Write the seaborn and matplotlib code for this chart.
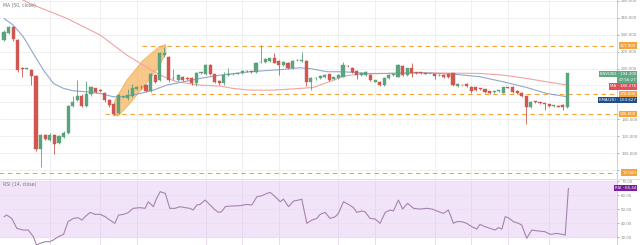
import matplotlib
matplotlib.use("Agg")
import matplotlib.pyplot as plt
from matplotlib.patches import Polygon
import matplotlib.transforms as mtransforms
import seaborn as sns
import pandas as pd

# ---------------- data ----------------
opens = [233.7, 242.3, 249.4, 233.7, 200.5, 199.8, 198.2, 191.1, 105.4, 121.2,
         115.3, 122.0, 112.2, 119.3, 124.0, 155.5, 162.7, 167.4, 155.5, 169.8,
         176.5, 174.5, 170.5, 162.7, 157.9, 146.9, 166.6, 164.6, 167.4, 175.3,
         178.4, 180.4, 173.7, 192.2, 186.3, 215.9, 213.9, 188.3, 186.3, 190.3,
         188.3, 188.3, 182.4, 194.6, 193.4, 204.1, 193.4, 185.1, 182.4, 192.2,
         193.0, 193.8, 194.2, 197.0, 196.2, 196.2, 207.4, 207.6, 209.2, 212.0,
         208.8, 204.1, 206.8, 200.1, 209.6, 208.8, 208.8, 183.6, 188.3, 188.3,
         189.5, 193.4, 187.1, 188.3, 190.3, 202.9, 200.9, 197.0, 192.2, 192.2,
         192.2, 184.3, 184.3, 180.4, 188.3, 192.2, 190.3, 202.9, 192.2, 200.1,
         195.0, 195.0, 194.2, 194.2, 193.4, 192.2, 192.2, 193.4, 194.2, 179.6,
         180.4, 181.6, 178.4, 177.6, 176.5, 175.3, 173.3, 172.5, 173.3, 171.3,
         177.6, 178.4, 173.7, 171.3, 167.4, 154.8, 160.7, 159.5, 158.7, 157.9,
         155.5, 155.5, 156.7, 154.0]
highs = [245.5, 250.5, 250.2, 234.5, 201.5, 201.0, 199.0, 192.0, 123.0, 122.5,
         124.0, 123.0, 121.0, 126.0, 157.0, 168.0, 186.3, 170.0, 185.0, 179.0,
         177.5, 176.0, 172.0, 164.0, 159.0, 170.0, 168.0, 176.0, 182.0, 179.5,
         180.0, 181.5, 195.0, 193.5, 219.0, 225.8, 215.0, 199.0, 193.5, 191.5,
         189.5, 189.5, 195.5, 196.0, 205.5, 205.0, 194.0, 186.0, 196.0, 201.0,
         194.5, 195.0, 198.0, 198.0, 197.0, 208.0, 227.7, 212.0, 213.0, 217.9,
         210.0, 209.0, 208.0, 210.0, 211.0, 219.9, 210.0, 189.5, 189.5, 192.0,
         193.0, 194.0, 190.5, 193.0, 208.0, 204.0, 202.0, 198.0, 196.0, 197.0,
         193.0, 187.0, 185.0, 189.5, 193.0, 193.5, 205.0, 204.0, 201.0, 206.5,
         196.0, 195.5, 195.0, 195.0, 194.0, 193.0, 193.0, 194.5, 195.0, 182.5,
         181.0, 182.5, 179.0, 178.5, 177.5, 176.0, 174.0, 173.5, 174.5, 178.5,
         178.5, 179.0, 174.5, 172.0, 168.0, 161.5, 161.5, 160.5, 159.5, 158.5,
         156.5, 156.5, 157.5, 195.0]
lows = [232.9, 241.0, 233.0, 196.0, 190.0, 199.0, 180.0, 103.0, 83.8, 116.0,
        114.0, 99.5, 111.0, 118.0, 123.0, 154.5, 161.5, 154.0, 154.0, 168.0,
        171.0, 172.0, 161.0, 155.0, 145.0, 146.0, 165.0, 163.0, 166.0, 174.5,
        176.0, 172.5, 172.0, 183.0, 185.0, 214.0, 184.0, 186.0, 185.0, 185.0,
        187.0, 181.0, 179.0, 194.0, 192.0, 192.0, 183.0, 181.0, 181.0, 191.0,
        192.0, 193.0, 193.0, 196.0, 195.0, 195.0, 206.5, 206.5, 208.0, 206.0,
        192.2, 203.0, 199.0, 199.0, 209.0, 208.0, 179.2, 174.5, 187.0, 187.5,
        189.0, 185.5, 186.5, 187.5, 189.5, 201.5, 195.0, 187.1, 191.5, 191.5,
        185.5, 183.5, 179.5, 179.5, 187.5, 191.5, 189.5, 191.5, 191.5, 190.3,
        194.0, 194.0, 193.5, 193.5, 188.0, 191.0, 189.0, 189.0, 179.5, 178.5,
        179.0, 178.0, 171.0, 173.5, 175.0, 171.5, 169.5, 171.5, 172.5, 170.5,
        176.5, 171.5, 170.0, 166.5, 135.0, 153.5, 159.5, 158.5, 151.0, 154.5,
        154.5, 154.0, 151.0, 153.0]
closes = [243.5, 249.4, 234.4, 198.2, 200.0, 200.6, 191.1, 105.4, 121.2, 117.3,
          122.0, 111.4, 120.0, 124.0, 155.5, 160.7, 167.4, 155.5, 169.8, 177.6,
          172.5, 173.9, 162.7, 156.7, 146.1, 168.6, 167.0, 168.6, 176.5, 178.4,
          177.6, 173.7, 193.4, 184.3, 217.9, 218.5, 186.3, 188.7, 192.2, 186.3,
          188.0, 182.4, 194.2, 195.0, 204.1, 193.4, 184.3, 182.4, 192.2, 192.6,
          193.4, 194.2, 197.0, 196.6, 196.0, 206.8, 208.0, 210.8, 212.0, 206.8,
          203.7, 208.0, 200.1, 208.8, 210.0, 210.0, 183.6, 188.3, 188.7, 191.1,
          192.2, 186.3, 189.5, 192.2, 204.1, 202.5, 196.2, 192.2, 195.0, 196.2,
          186.3, 186.3, 180.4, 188.3, 192.2, 192.6, 204.1, 192.2, 200.1, 195.0,
          194.6, 194.8, 194.0, 194.4, 191.1, 192.0, 189.5, 189.5, 180.4, 181.2,
          180.0, 179.2, 173.7, 174.5, 176.1, 172.5, 170.5, 172.9, 173.7, 177.6,
          177.2, 172.5, 171.3, 167.4, 154.8, 160.7, 160.3, 159.1, 158.3, 155.5,
          155.9, 155.1, 154.0, 194.2]

ema_x = [0, 2, 4.2, 6.4, 8.6, 10.8, 13, 15.1, 18, 21, 23.9, 26, 29.7, 32.6, 35.5,
         39.2, 42.8, 47.2, 53.7, 61, 64.6, 66.8, 70.5, 74.1, 79.2, 83.6, 90.8,
         98.1, 103.9, 109, 114.1, 118.5, 123]
ema_y = [259.3, 251.4, 237.6, 217.9, 198.2, 182.4, 176.5, 173.7, 172.5, 170.5,
         166.6, 166.6, 170.5, 174.5, 180.4, 184.3, 188.3, 192.2, 196.2, 199.0,
         200.9, 200.0, 196.2, 196.2, 194.2, 194.2, 195.0, 193.4, 190.3, 184.3,
         177.6, 170.5, 166.6]
ma_x = [3, 6.4, 13.7, 21, 26.8, 30.4, 34.1, 37.7, 42.8, 47.2, 50, 53.7, 58.8,
        64.6, 67.5, 71.9, 74.1, 77.7, 83.6, 90.8, 103.9, 109, 114.1, 118.5, 123]
ma_y = [284, 275.1, 259.3, 239.6, 215.9, 204.1, 192.2, 184.3, 180.4, 179.2,
        176.5, 174.5, 174.5, 176.5, 177.6, 186.3, 191.1, 193.4, 194.2, 195.0,
        194.2, 192.2, 188.3, 184.3, 180.4]

rsi_x = [0, 0.6, 1.7, 2.8, 4.2, 5.3, 6.4, 7.1, 7.9, 9.0, 10.0, 10.8, 11.9, 13.0,
         14.0, 15.1, 16.2, 17.0, 17.7, 18.8, 19.9, 21.0, 22.1, 23.1, 24.2, 25.0,
         26.1, 27.1, 28.2, 29.7, 30.8, 31.5, 32.6, 33.3, 34.1, 35.2, 36.2, 37.3,
         38.4, 39.5, 40.6, 41.3, 42.1, 42.8, 43.9, 45.0, 46.1, 46.8, 47.5, 48.3,
         49.3, 51.5, 53.0, 54.1, 55.2, 56.3, 57.4, 58.1, 59.2, 60.3, 61.0, 62.1,
         63.2, 64.3, 65.0, 66.1, 67.2, 68.3, 69.0, 70.1, 71.2, 72.3, 73.0, 74.1,
         75.2, 76.3, 77.0, 78.1, 78.8, 79.9, 81.0, 82.1, 83.2, 84.3, 85.0, 86.1,
         87.0, 88.1, 89.4, 90.8, 92.3, 93.4, 94.5, 95.9, 97.0, 98.1, 98.8, 99.9,
         101.0, 102.1, 103.2, 103.9, 105.0, 106.1, 107.2, 107.9, 108.7, 109.4,
         110.1, 111.2, 112.3, 113.0, 114.1, 115.2, 116.7, 118.1, 119.2, 120.7,
         121.8, 122.5, 123.2]
rsi_v = [44.5, 45.7, 43.3, 36.2, 35.0, 35.0, 30.3, 24.3, 25.5, 26.7, 26.7, 27.9,
         30.3, 31.9, 41.0, 43.3, 43.8, 42.1, 44.5, 47.6, 46.2, 46.2, 44.5, 42.1,
         39.8, 45.7, 46.2, 47.4, 50.5, 51.0, 50.5, 55.2, 51.7, 57.6, 62.4, 61.2,
         50.5, 50.5, 51.7, 51.0, 50.5, 49.3, 52.9, 53.3, 56.4, 52.9, 49.3, 47.6,
         48.1, 51.7, 52.1, 52.4, 53.3, 52.9, 58.8, 59.5, 61.2, 61.9, 58.8, 55.2,
         57.1, 51.7, 55.7, 56.4, 57.1, 39.8, 42.1, 43.3, 46.2, 47.6, 43.3, 44.5,
         46.9, 55.2, 53.3, 51.0, 47.6, 48.6, 48.1, 43.3, 42.9, 39.8, 47.6, 49.3,
         48.6, 56.4, 50.0, 54.1, 50.5, 50.0, 50.5, 50.0, 48.6, 46.9, 49.3, 39.8,
         41.0, 41.0, 39.8, 37.4, 35.7, 39.0, 37.4, 36.2, 35.0, 36.7, 35.7, 44.5,
         43.8, 41.0, 39.8, 38.6, 29.1, 35.0, 34.3, 33.8, 31.9, 32.6, 31.9, 31.4,
         64.8]

# drawn zone (x as candle index, y as price)
zone_x = [23.9, 24.2, 26.8, 30.4, 33.7, 35.3, 35.4, 33.3, 30.4, 27.5, 25.0]
zone_y = [144.1, 162.6, 186.3, 210.0, 225.0, 228.5, 217.9, 198.2, 177.6, 158.7, 144.1]

# horizontal rays: level and starting candle index
levels = [227.0, 170.0, 146.0, 77.0]
level_start = [30.1, 32.0, 22.0, -1.0]

price_ticks = [280, 260, 240, 220, 200, 180, 160, 140, 120, 100, 80]
hidden_ticks = [180, 160, 80]          # covered by the tags in the reference
rsi_ticks = [70, 60, 50, 40, 30]
vgrid = [10, 21, 29, 44, 52, 60, 73, 81, 94, 102, 110, 119]

symbol_label = "BSVUSD · 194.200"
timer_label = "07:56:27"
ma_label = "MA · 180.276"
ema_label = "EMA(20) · 163.627"
rsi_label = "RSI · 65.44"
rsi_last = 65.0

# ---------------- styling ----------------
sns.set_theme(style="white")
plt.rcParams['font.family'] = ['DejaVu Sans']
UP = "#5aa37d"
DOWN = "#d0574f"
ORANGE = "#f3a43c"
TXT = "#8a8a8a"
GRID = "#eeeeee"
FS = 2.9

fig = plt.figure(figsize=(6.4, 2.45), dpi=100)
fig.patch.set_facecolor("white")
ax = fig.add_axes([0, 0.273, 0.964, 0.727])
ax2 = fig.add_axes([0, 0, 0.964, 0.265])

df = pd.DataFrame({"o": opens, "h": highs, "l": lows, "c": closes})
df["i"] = range(len(df))
df["up"] = df["c"] >= df["o"]
df["bottom"] = df[["o", "c"]].min(axis=1)
df["height"] = (df["c"] - df["o"]).abs().clip(lower=0.9)
colors = [UP if u else DOWN for u in df["up"]]

xmin, xmax = -0.87, 133.8
ax.set_xlim(xmin, xmax)
ax.set_ylim(70.5, 281)

# grid
for g in vgrid:
    ax.axvline(g, color=GRID, lw=0.6, zorder=0)
    ax2.axvline(g, color="#e6d6ee", lw=0.6, zorder=0.5)
for t in price_ticks:
    ax.axhline(t, color=GRID, lw=0.6, zorder=0)

# zone
ax.add_patch(Polygon(list(zip(zone_x, zone_y)), closed=True, facecolor=ORANGE,
                     alpha=0.6, edgecolor="#f09a20", lw=0.6, zorder=1))

# levels
for lv, st in zip(levels, level_start):
    ax.hlines(lv, st, xmax, colors=ORANGE, lw=0.8, linestyles=(0, (4, 3.5)), zorder=2)

# moving averages
sns.lineplot(x=ma_x, y=ma_y, ax=ax, color="#f0a3a3", lw=0.8, sort=False,
             estimator=None, zorder=2)
sns.lineplot(x=ema_x, y=ema_y, ax=ax, color="#8fa8cc", lw=0.8, sort=False,
             estimator=None, zorder=2)

# candles
ax.vlines(df["i"], df["l"], df["h"], colors=colors, lw=0.6, zorder=3)
ax.bar(df["i"], df["height"], bottom=df["bottom"], width=0.68, color=colors,
       edgecolor=colors, lw=0.3, zorder=4)

# axis styling
for s in ["top", "left", "bottom"]:
    ax.spines[s].set_visible(False)
    ax2.spines[s].set_visible(False)
for a in (ax, ax2):
    a.spines["right"].set_color("#c8c8c8")
    a.spines["right"].set_linewidth(0.6)
    a.set_xticks([])
    a.set_ylabel("")
    a.set_xlabel("")
ax.yaxis.tick_right()
ax.set_yticks(price_ticks)
ax.set_yticklabels(["" if t in hidden_ticks else f"{t:.3f}" for t in price_ticks])
ax.tick_params(axis="y", right=True, left=False, labelsize=FS, colors=TXT,
               length=1.5, width=0.5, pad=1.5)

ax.text(0.005, 0.985, "MA (50, close)", transform=ax.transAxes, fontsize=FS + 0.4,
        color="#777777", va="top", ha="left")


def tag(axis, y, text, fc, tc="white"):
    t = mtransforms.blended_transform_factory(axis.transAxes, axis.transData)
    axis.text(1.031, y, text, transform=t, ha="right", va="center", fontsize=FS,
              color=tc, clip_on=False, zorder=10,
              bbox=dict(boxstyle="square,pad=0.3", fc=fc, ec="none"))


tag(ax, 227.0, "227.000", ORANGE)
tag(ax, 193.3, symbol_label, "#5fa985")
tag(ax, 186.2, timer_label, "#5fa985")
tag(ax, 179.0, ma_label, "#e0505a")
tag(ax, 170.0, "170.000", ORANGE)
tag(ax, 162.6, ema_label, "#1f4e8c")
tag(ax, 146.0, "146.000", ORANGE)
tag(ax, 77.0, "77.000", ORANGE)

# ---------------- RSI pane ----------------
ax2.set_xlim(xmin, xmax)
ax2.set_ylim(24.3, 70.7)
ax2.axhspan(30, 70, color="#f2e4f8", zorder=0)
for t in rsi_ticks:
    ax2.axhline(t, color="#ebdcf2", lw=0.5, zorder=0.6)
sns.lineplot(x=rsi_x, y=rsi_v, ax=ax2, color="#a583ad", lw=0.8, sort=False,
             estimator=None, zorder=3)
ax2.yaxis.tick_right()
ax2.set_yticks(rsi_ticks)
ax2.set_yticklabels([f"{t:.2f}" for t in rsi_ticks])
ax2.tick_params(axis="y", right=True, left=False, labelsize=FS, colors=TXT,
                length=1.5, width=0.5, pad=1.5)
ax2.text(0.005, 0.97, "RSI (14, close)", transform=ax2.transAxes, fontsize=FS + 0.4,
         color="#777777", va="top", ha="left")
tag(ax2, rsi_last, rsi_label, "#7b1fa2")

# pane separator
fig.add_artist(plt.Line2D([0, 1], [0.268, 0.268], color="#d8d8d8", lw=0.6))

fig.savefig("out.png", dpi=100, facecolor="white")
